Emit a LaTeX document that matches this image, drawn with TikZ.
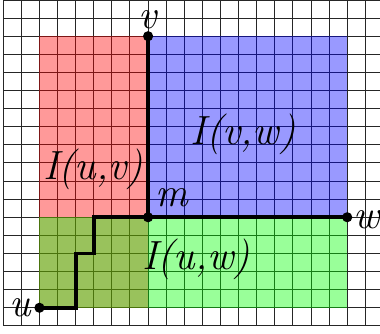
\documentclass[tikz,border=0pt]{standalone}
\usepackage{tikz}
\usetikzlibrary{positioning}
\definecolor{redarea}{RGB}{255,0,0}
\definecolor{bluearea}{RGB}{0,0,255}
\definecolor{greenarea}{RGB}{0,255,0}
\tikzset{
  gridline/.style={black!85, line width=0.8pt},
  area/.style={fill opacity=0.4},
  walk/.style={line width=3pt, line join=miter},
  dot/.style={circle, fill=black, inner sep=0pt, minimum size=8pt},
  lbl/.style={font=\fontsize{32}{32}\selectfont\itshape, inner sep=0pt, anchor=base}
}

\begin{document}
\begin{tikzpicture}[x=0.5cm, y=0.5cm]
  \useasboundingbox (-0.18,-0.4) rectangle (20.81,18);
  % grid paper
  \draw[gridline, step=1] (0,0) grid (20.9,18);
  % intervals
  \fill[redarea, area] (2,1) rectangle (8,16);
  \fill[greenarea, area] (2,1) rectangle (19,6);
  \fill[bluearea, area] (8,6) rectangle (19,16);
  % vertices
  \node[dot] (u) at (2,1) {};
  \node[dot] (v) at (8,16) {};
  \node[dot] (m) at (8,6) {};
  \node[dot] (w) at (19,6) {};
  % paths
  \draw[walk] (v.center) -- (m.center) -- (w.center);
  \draw[walk] (u.center) -| (4,4) -| (5,6) -- (m.center);
  % labels
  \node[lbl] (ulbl) at (0.92,0.5) {u};
  \node[lbl] (vlbl) at (8,16.4) {v};
  \node[lbl] (mlbl) at (9.3,6.57) {m};
  \node[lbl] (wlbl) at (20.1,5.36) {w};
  \node[lbl] (iuv) at (4.96,8.07) {I(u,v)};
  \node[lbl] (ivw) at (13.25,10.0) {I(v,w)};
  \node[lbl] (iuw) at (10.65,3.1) {I(u,w)};
\end{tikzpicture}
\end{document}
